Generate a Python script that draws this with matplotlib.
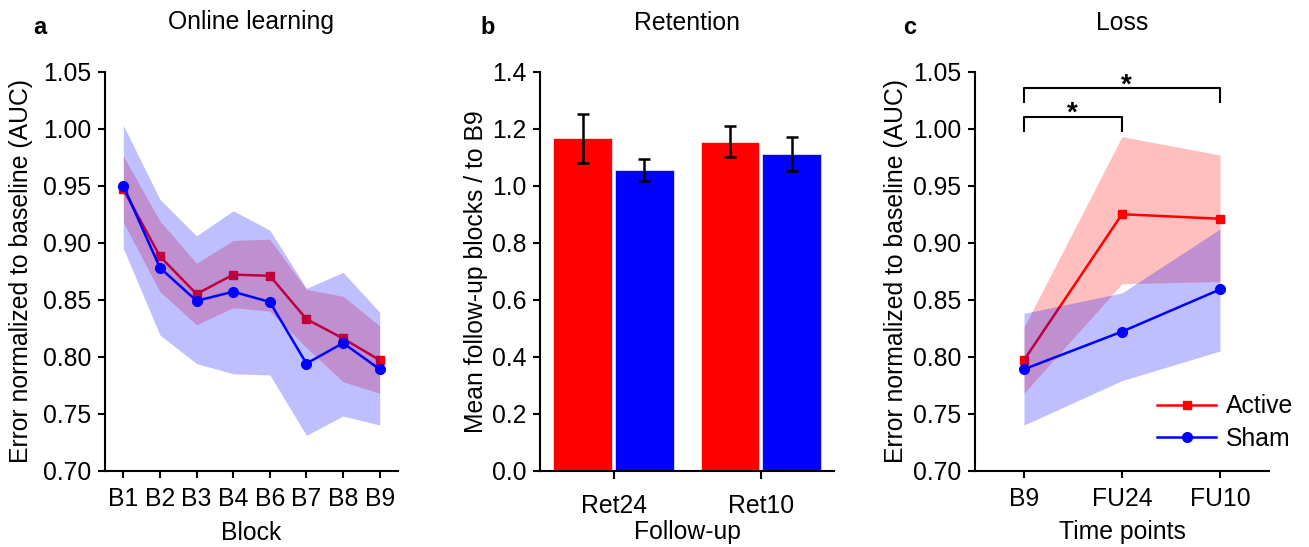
import matplotlib
matplotlib.use("Agg")
import matplotlib.pyplot as plt
import numpy as np

plt.rcParams['font.family'] = ['Liberation Sans', 'DejaVu Sans']
plt.rcParams['font.size'] = 17.8

RED = '#ff0000'
BLUE = '#0000ff'

# panel a - online learning
blocks = ['B1', 'B2', 'B3', 'B4', 'B6', 'B7', 'B8', 'B9']
active_a = [0.947, 0.888, 0.855, 0.872, 0.871, 0.833, 0.816, 0.797]
active_a_lo = [0.918, 0.857, 0.828, 0.843, 0.840, 0.808, 0.778, 0.768]
active_a_hi = [0.976, 0.919, 0.882, 0.902, 0.903, 0.859, 0.853, 0.827]
sham_a = [0.950, 0.878, 0.849, 0.857, 0.848, 0.794, 0.812, 0.789]
sham_a_lo = [0.895, 0.819, 0.794, 0.785, 0.784, 0.731, 0.748, 0.740]
sham_a_hi = [1.003, 0.938, 0.906, 0.928, 0.911, 0.860, 0.874, 0.839]

# panel b - retention
followups = ['Ret24', 'Ret10']
active_b = [1.166, 1.154]
active_b_err = [0.085, 0.055]
sham_b = [1.055, 1.110]
sham_b_err = [0.040, 0.060]

# panel c - loss
timepoints = ['B9', 'FU24', 'FU10']
active_c = [0.797, 0.925, 0.921]
active_c_lo = [0.768, 0.864, 0.866]
active_c_hi = [0.826, 0.993, 0.977]
sham_c = [0.789, 0.822, 0.859]
sham_c_lo = [0.740, 0.779, 0.805]
sham_c_hi = [0.838, 0.856, 0.912]

W, H = 1309, 547
fig = plt.figure(figsize=(W / 100, H / 100), dpi=100)


def px_axes(x0, x1, top, bottom):
    return fig.add_axes([x0 / W, 1 - bottom / H, (x1 - x0) / W, (bottom - top) / H])


def style(ax):
    for s in ['top', 'right']:
        ax.spines[s].set_visible(False)
    for s in ['left', 'bottom']:
        ax.spines[s].set_linewidth(1.5)
    ax.tick_params(width=1.5, length=5, direction='out')
    ax.tick_params(axis='y', pad=5)
    ax.tick_params(axis='x', pad=7)


ax_a = px_axes(105, 398, 71.7, 470.7)
ax_b = px_axes(540, 834.3, 71.7, 470.7)
ax_c = px_axes(975, 1269, 71.7, 470.7)


def band_plot(ax, n, a, alo, ahi, s, slo, shi):
    x = np.arange(n)
    ax.fill_between(x, alo, ahi, color=RED, alpha=0.25, lw=0, zorder=1)
    ax.plot(x, a, color=RED, lw=1.8, marker='s', ms=6, label='Active', zorder=2)
    ax.fill_between(x, slo, shi, color=BLUE, alpha=0.25, lw=0, zorder=3)
    ax.plot(x, s, color=BLUE, lw=1.8, marker='o', ms=7, label='Sham', zorder=4)
    ax.set_ylim(0.70, 1.05)
    ax.set_yticks(np.arange(0.70, 1.051, 0.05))
    ax.set_yticklabels(['%.2f' % v for v in np.arange(0.70, 1.051, 0.05)])
    ax.set_xticks(x)


# a
band_plot(ax_a, len(blocks), active_a, active_a_lo, active_a_hi,
          sham_a, sham_a_lo, sham_a_hi)
ax_a.set_xticklabels(blocks)
ax_a.set_xlim(-0.5, 7.5)
ax_a.set_xlabel('Block')
ax_a.set_ylabel('Error normalized to baseline (AUC)')
style(ax_a)

# b
xb = np.arange(len(followups))
ax_b.bar(xb - 0.21, active_b, width=0.397, color=RED, edgecolor='#ffdddd', lw=0.6)
ax_b.bar(xb + 0.21, sham_b, width=0.397, color=BLUE, edgecolor='#ddddff', lw=0.6)
ax_b.errorbar(xb - 0.21, active_b, yerr=active_b_err, fmt='none', ecolor='black',
              elinewidth=1.8, capsize=4.5, capthick=1.8)
ax_b.errorbar(xb + 0.21, sham_b, yerr=sham_b_err, fmt='none', ecolor='black',
              elinewidth=1.8, capsize=4.5, capthick=1.8)
ax_b.set_xlim(-0.5, 1.5)
ax_b.set_ylim(0, 1.4)
ax_b.set_yticks(np.arange(0, 1.41, 0.2))
ax_b.set_yticklabels(['%.1f' % v for v in np.arange(0, 1.41, 0.2)])
ax_b.set_xticks(xb)
ax_b.set_xticklabels(followups)
ax_b.set_xlabel('Follow-up')
ax_b.set_ylabel('Mean follow-up blocks / to B9')
style(ax_b)
ax_b.tick_params(axis='x', length=6, pad=11)

# c
band_plot(ax_c, len(timepoints), active_c, active_c_lo, active_c_hi,
          sham_c, sham_c_lo, sham_c_hi)
ax_c.set_xticklabels(timepoints)
ax_c.set_xlim(-0.5, 2.5)
ax_c.set_xlabel('Time points')
ax_c.set_ylabel('Error normalized to baseline (AUC)')
style(ax_c)
ax_c.legend(loc='lower right', frameon=False, handlelength=2.4, handletextpad=0.4,
            labelspacing=0.35, borderaxespad=0.0, bbox_to_anchor=(1.117, 0.025))

# significance brackets
ax_c.plot([0, 0, 1, 1], [0.9977, 1.0104, 1.0104, 0.9977], color='black', lw=1.5, clip_on=False)
ax_c.text(0.49, 1.0135, '*', ha='center', va='center', fontsize=20, fontweight='bold')
ax_c.plot([0, 0, 2, 2], [1.0236, 1.0359, 1.0359, 1.0236], color='black', lw=1.5, clip_on=False)
ax_c.text(1.04, 1.0375, '*', ha='center', va='center', fontsize=20, fontweight='bold')

# label placement
for ax, yx in [(ax_a, -0.245), (ax_b, -0.177), (ax_c, -0.228)]:
    ax.xaxis.set_label_coords(0.5, -(520.5 - 470.7) / 399)
    ax.yaxis.set_label_coords(yx, 0.5)

# titles and panel letters
for cx, title in [(251.5, 'Online learning'), (687, 'Retention'), (1122, 'Loss')]:
    fig.text(cx / W, 1 - 29.5 / H, title, ha='center', va='baseline', fontsize=17.8)
for lx, letter in [(33, 'a'), (480, 'b'), (903, 'c')]:
    fig.text(lx / W, 1 - 34 / H, letter, ha='left', va='baseline', fontsize=17,
             fontweight='bold')

fig.savefig('out.png', dpi=100)
